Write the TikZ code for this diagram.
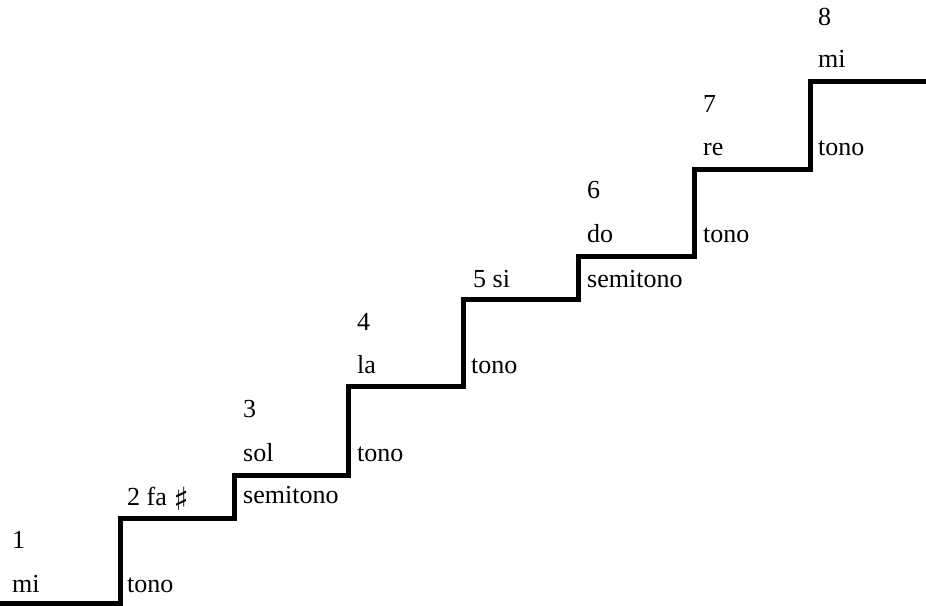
\documentclass[tikz,border=0pt]{standalone}
\usepackage{fontspec}
\setmainfont{Liberation Serif}
\newfontfamily\symfont{DejaVu Serif}
\begin{document}
\begin{tikzpicture}[x=1pt,y=-1pt,
  lbl/.style={anchor=base west,inner sep=0pt,font=\fontsize{26}{30}\selectfont},
  stair/.style={line width=5pt,line join=miter,line cap=butt}]
\useasboundingbox (0,0) rectangle (926,605);
% corners of the staircase
\coordinate (s0) at (0,603);
\coordinate (a1) at (120,603);  \coordinate (b1) at (120,518);
\coordinate (a2) at (234,518);  \coordinate (b2) at (234,475);
\coordinate (a3) at (348,475);  \coordinate (b3) at (348,386);
\coordinate (a4) at (463,386);  \coordinate (b4) at (463,299);
\coordinate (a5) at (578,299);  \coordinate (b5) at (578,256);
\coordinate (a6) at (694,256);  \coordinate (b6) at (694,169);
\coordinate (a7) at (810,169);  \coordinate (b7) at (810,81);
\coordinate (e) at (926,81);
\draw[stair] (s0) -- (a1) -- (b1) -- (a2) -- (b2) -- (a3) -- (b3) -- (a4)
  -- (b4) -- (a5) -- (b5) -- (a6) -- (b6) -- (a7) -- (b7) -- (e);
% degrees of the scale
\node[lbl] (n1) at (12,548) {1};
\node[lbl] (m1) at (12,592) {mi};
\node[lbl] (n2) at (127,505) {2 fa \raisebox{-5pt}{\symfont\fontsize{32}{34}\selectfont ♯}};
\node[lbl] (n3) at (243,417) {3};
\node[lbl] (m3) at (243,461) {sol};
\node[lbl] (n4) at (357,330) {4};
\node[lbl] (m4) at (357,373) {la};
\node[lbl] (n5) at (473,287) {5 si};
\node[lbl] (n6) at (587,198) {6};
\node[lbl] (m6) at (587,242) {do};
\node[lbl] (n7) at (703,112) {7};
\node[lbl] (m7) at (703,155) {re};
\node[lbl] (n8) at (818,25) {8};
\node[lbl] (m8) at (818,67) {mi};
% intervals
\node[lbl] (i1) at (127,592) {tono};
\node[lbl] (i2) at (243,503) {semitono};
\node[lbl] (i3) at (357,461) {tono};
\node[lbl] (i4) at (471,373) {tono};
\node[lbl] (i5) at (587,287) {semitono};
\node[lbl] (i6) at (703,242) {tono};
\node[lbl] (i7) at (818,155) {tono};
\end{tikzpicture}
\end{document}
